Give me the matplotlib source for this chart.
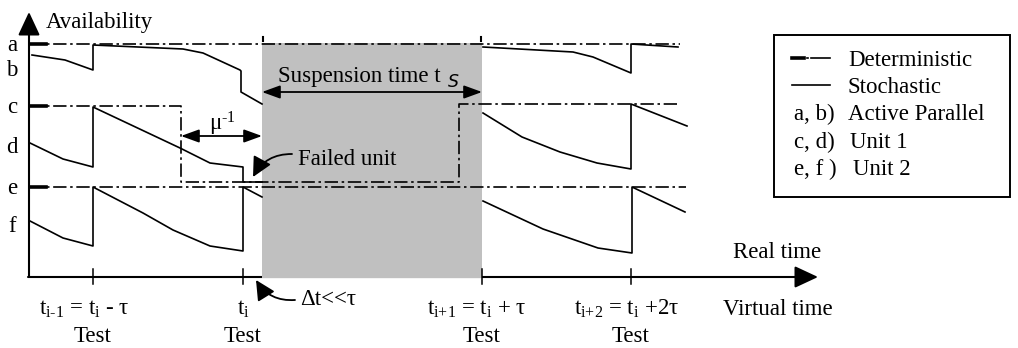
import numpy as np
import matplotlib.pyplot as plt
from matplotlib.patches import Rectangle

plt.rcParams['font.family'] = ['Liberation Serif', 'DejaVu Serif']
plt.rcParams['mathtext.fontset'] = 'custom'
plt.rcParams['mathtext.rm'] = 'Liberation Serif'
plt.rcParams['mathtext.default'] = 'regular'

# everything is in picture pixels: x to the right, y downwards
# test instants on the time axis
t_test = [93, 243, 482, 631]
tick_labels = [r't$_{i\text{-}1}$ = t$_i$ - τ', r't$_i$',
               r't$_{i\text{+}1}$ = t$_i$ + τ', r't$_{i\text{+}2}$ = t$_i$ +2τ']
tick_label_x = [84, 243, 477, 627]

# level labels on the availability axis
level_names = ['a', 'b', 'c', 'd', 'e', 'f']
level_base = [51, 76, 113, 153, 194, 232]

# deterministic availability (dash-dot)
det_a_x = [30, 680]
det_a_y = [44, 44]
det_cd_x = [30, 181, 181, 459, 459, 680]
det_cd_y = [106, 106, 182, 182, 104, 104]
det_ef_x = [30, 686]
det_ef_y = [187, 187]

# stochastic availability (solid), before and after the suspension
sto_b1_x = [32, 65, 93, 93, 183, 203, 240, 241, 241, 262]
sto_b1_y = [55, 60, 70, 45, 49, 53, 70, 71, 92, 104]
sto_b2_x = [483, 573, 593, 631, 631, 678]
sto_b2_y = [47, 52, 57, 73, 44, 47]
sto_d1_x = [30, 63, 93, 93, 180, 210, 243, 243, 262]
sto_d1_y = [143, 159, 167, 107, 148, 163, 167, 182, 182]
sto_d2_x = [483, 522, 560, 597, 631, 631, 687]
sto_d2_y = [113, 137, 152, 163, 169, 104, 126]
sto_f1_x = [30, 63, 93, 93, 143, 173, 210, 243, 243, 262]
sto_f1_y = [221, 238, 246, 187, 213, 230, 246, 251, 187, 197]
sto_f2_x = [483, 543, 598, 632, 632, 685]
sto_f2_y = [201, 229, 248, 253, 187, 212]

# suspension window
susp_x0, susp_x1 = 262, 482

fig = plt.figure(figsize=(10.18, 3.48), dpi=100)
ax = fig.add_axes([0, 0, 1, 1])
ax.set_xlim(0, 1018)
ax.set_ylim(348, 0)
ax.axis('off')

fs = 16.5
dd = (8, 2.2, 1.5, 2.2)
lw = 1.2

# grey suspension band
ax.add_patch(Rectangle((susp_x0, 43), susp_x1 - susp_x0, 235, color='#c0c0c0', lw=0, zorder=2))
for x in [susp_x0 + 1, susp_x1 - 1]:
    ax.plot([x, x], [37, 41], color='k', lw=1.5, zorder=3)

# axes with arrows
ax.annotate('', xy=(29, 12), xytext=(29, 277),
            arrowprops=dict(arrowstyle='-|>,head_length=0.9,head_width=0.42', mutation_scale=16,
                            color='k', lw=1.5, shrinkA=0, shrinkB=0), zorder=1)
ax.annotate('', xy=(818, 277), xytext=(28, 277),
            arrowprops=dict(arrowstyle='-|>,head_length=0.9,head_width=0.42', mutation_scale=16,
                            color='k', lw=1.5, shrinkA=0, shrinkB=0), zorder=1)
for x in t_test:
    ax.plot([x, x], [269, 284], color='k', lw=1.1, zorder=4)

# deterministic curves
for xs, ys in [(det_a_x, det_a_y), (det_cd_x, det_cd_y), (det_ef_x, det_ef_y)]:
    ax.plot(xs, ys, color='k', lw=lw, dashes=dd, zorder=5)
    ax.plot([xs[0], xs[0] + 16], [ys[0], ys[0]], color='k', lw=2.6, zorder=5)

# stochastic curves
for xs, ys in [(sto_b1_x, sto_b1_y), (sto_b2_x, sto_b2_y), (sto_d1_x, sto_d1_y),
               (sto_d2_x, sto_d2_y), (sto_f1_x, sto_f1_y), (sto_f2_x, sto_f2_y)]:
    ax.plot(xs, ys, color='k', lw=lw, zorder=4)

# texts
ax.text(46, 28, 'Availability', fontsize=fs, va='baseline')
for name, yb in zip(level_names, level_base):
    ax.text(12, yb, name, fontsize=fs, va='baseline', ha='center')
for x, lab in zip(tick_label_x, tick_labels):
    ax.text(x, 315, lab, fontsize=fs, va='baseline', ha='center')
for x in t_test:
    ax.text(x, 342, 'Test', fontsize=fs, va='baseline', ha='center')
ax.text(733, 258, 'Real time', fontsize=fs, va='baseline')
ax.text(723, 315, 'Virtual time', fontsize=fs, va='baseline')

# suspension time arrow
head = dict(arrowstyle='<|-|>,head_length=0.55,head_width=0.2', mutation_scale=20, color='k',
            lw=1.3, shrinkA=0, shrinkB=0)
ax.annotate('', xy=(susp_x1, 92), xytext=(susp_x0, 92), arrowprops=head, zorder=6)
ax.text(278, 82, 'Suspension time t', fontsize=fs, va='baseline')
ax.text(448, 87, 'S', fontsize=12.5, va='baseline', style='italic', family='DejaVu Sans')

# repair time arrow
ax.annotate('', xy=(susp_x0, 136), xytext=(181, 136), arrowprops=head, zorder=6)
ax.text(222, 130, r'μ$^{\text{-}1}$', fontsize=fs, va='baseline', ha='center')

# failed unit
ax.text(298, 165, 'Failed unit', fontsize=fs, va='baseline', zorder=6)
ax.annotate('', xy=(253, 177), xytext=(292, 154),
            arrowprops=dict(arrowstyle='-|>,head_length=0.6,head_width=0.3', mutation_scale=20,
                            color='k', lw=1.3, shrinkA=0, shrinkB=0,
                            connectionstyle='arc3,rad=0.3'), zorder=6)

# delta t
ax.text(300, 305, 'Δt<<τ', fontsize=fs, va='baseline')
ax.annotate('', xy=(256, 280), xytext=(295, 300),
            arrowprops=dict(arrowstyle='-|>,head_length=0.6,head_width=0.3', mutation_scale=20,
                            color='k', lw=1.3, shrinkA=0, shrinkB=0,
                            connectionstyle='arc3,rad=-0.3'), zorder=6)

# legend box
ax.add_patch(Rectangle((774, 35), 236, 162, fill=False, ec='k', lw=1.4, zorder=6))
ax.plot([792, 804], [58, 58], color='k', lw=2.6, zorder=7)
ax.plot([807, 808], [58, 58], color='k', lw=1.2, zorder=7)
ax.plot([811, 830], [58, 58], color='k', lw=1.2, zorder=7)
ax.plot([792, 830], [85, 85], color='k', lw=1.2, zorder=7)
ax.text(848, 66, 'Deterministic', fontsize=fs, va='baseline')
ax.text(848, 93, 'Stochastic', fontsize=fs, va='baseline')
ax.text(794, 120, 'a, b)', fontsize=fs, va='baseline')
ax.text(848, 120, 'Active Parallel', fontsize=fs, va='baseline')
ax.text(794, 148, 'c, d)', fontsize=fs, va='baseline')
ax.text(850, 148, 'Unit 1', fontsize=fs, va='baseline')
ax.text(794, 175, 'e, f )', fontsize=fs, va='baseline')
ax.text(853, 175, 'Unit 2', fontsize=fs, va='baseline')

fig.savefig('out.png', dpi=100)
